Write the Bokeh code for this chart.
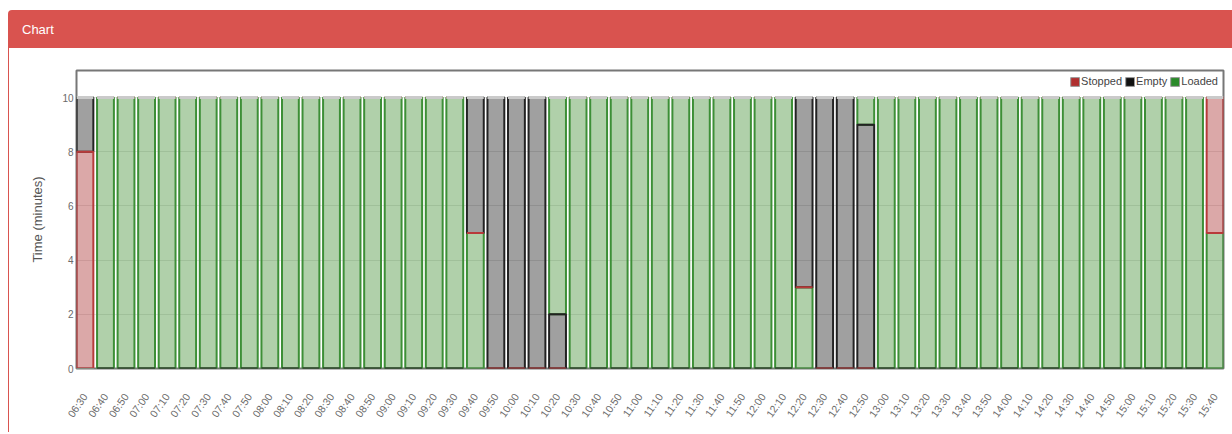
import math
from bokeh.plotting import figure
from bokeh.models import (ColumnDataSource, FixedTicker, Range1d, Div, Legend, LegendItem)
from bokeh.layouts import column
from bokeh.embed import file_html
from bokeh.resources import INLINE

times = ["06:30", "06:40", "06:50", "07:00", "07:10", "07:20", "07:30", "07:40", "07:50", "08:00",
         "08:10", "08:20", "08:30", "08:40", "08:50", "09:00", "09:10", "09:20", "09:30", "09:40",
         "09:50", "10:00", "10:10", "10:20", "10:30", "10:40", "10:50", "11:00", "11:10", "11:20",
         "11:30", "11:40", "11:50", "12:00", "12:10", "12:20", "12:30", "12:40", "12:50", "13:00",
         "13:10", "13:20", "13:30", "13:40", "13:50", "14:00", "14:10", "14:20", "14:30", "14:40",
         "14:50", "15:00", "15:10", "15:20", "15:30", "15:40"]

stopped = [8, 0, 0, 0, 0, 0, 0, 0, 0, 0,
           0, 0, 0, 0, 0, 0, 0, 0, 0, 0,
           0, 0, 0, 0, 0, 0, 0, 0, 0, 0,
           0, 0, 0, 0, 0, 0, 0, 0, 0, 0,
           0, 0, 0, 0, 0, 0, 0, 0, 0, 0,
           0, 0, 0, 0, 0, 5]
empty = [2, 0, 0, 0, 0, 0, 0, 0, 0, 0,
         0, 0, 0, 0, 0, 0, 0, 0, 0, 5,
         10, 10, 10, 2, 0, 0, 0, 0, 0, 0,
         0, 0, 0, 0, 0, 7, 10, 10, 9, 0,
         0, 0, 0, 0, 0, 0, 0, 0, 0, 0,
         0, 0, 0, 0, 0, 0]
loaded = [0, 10, 10, 10, 10, 10, 10, 10, 10, 10,
          10, 10, 10, 10, 10, 10, 10, 10, 10, 5,
          0, 0, 0, 8, 10, 10, 10, 10, 10, 10,
          10, 10, 10, 10, 10, 3, 0, 0, 1, 10,
          10, 10, 10, 10, 10, 10, 10, 10, 10, 10,
          10, 10, 10, 10, 10, 5]
# stacking order inside each 10-minute bar (S=Stopped, E=Empty, L=Loaded)
order = ["SEL", "ELS", "ELS", "ELS", "ELS", "ELS", "ELS", "ELS", "ELS", "ELS",
         "ELS", "ELS", "ELS", "ELS", "ELS", "ELS", "ELS", "ELS", "ELS", "LSE",
         "SEL", "SEL", "SEL", "SEL", "ELS", "ELS", "ELS", "ELS", "ELS", "ELS",
         "ELS", "ELS", "ELS", "ELS", "ELS", "LSE", "SEL", "SEL", "SEL", "ELS",
         "ELS", "ELS", "ELS", "ELS", "ELS", "ELS", "ELS", "ELS", "ELS", "ELS",
         "ELS", "ELS", "ELS", "ELS", "ELS", "LSE"]
series_names = ["Stopped", "Empty", "Loaded"]

FONT = "Liberation Sans"
W = 0.82

vals = {"S": stopped, "E": empty, "L": loaded}
segs = {k: {"x": [], "bottom": [], "top": []} for k in "SEL"}
totals = []
for i, o in enumerate(order):
    base = 0
    for k in o:
        v = vals[k][i]
        segs[k]["x"].append(i)
        segs[k]["bottom"].append(base)
        segs[k]["top"].append(base + v)
        base += v
    totals.append(base)

n = len(times)
p = figure(frame_width=1146, frame_height=298, min_border_left=67, min_border_top=22,
           min_border_right=5, min_border_bottom=64,
           x_range=Range1d(-W / 2, n - 1 + W / 2), y_range=Range1d(0, 11),
           output_backend="svg", toolbar_location=None,
           margin=(0, 0, 0, 8),
           styles={"border-left": "1px solid #d9534f"})

styles = {
    "L": dict(fill_color="#398a2a", fill_alpha=0.4, line_color="#3d8f37", line_width=2),
    "E": dict(fill_color="#111111", fill_alpha=0.4, line_color="#222222", line_width=2),
    "S": dict(fill_color="#a52525", fill_alpha=0.4, line_color="#b83a3a", line_width=2),
}
for k in "LES":
    p.vbar(x="x", bottom="bottom", top="top", width=W, source=ColumnDataSource(segs[k]), **styles[k])

# light cap on top of each bar
p.vbar(x=list(range(n)), bottom=totals, top=totals, width=W, line_color="#cacaca", line_width=3,
       fill_alpha=0)

# legend proxies: drawn on a hidden helper range, so they never appear in the plot area
p.extra_y_ranges = {"legend_proxy": Range1d(100, 101)}
legend_colors = ["#b03030", "#111111", "#2a8a2a"]
items = []
for name, col in zip(series_names, legend_colors):
    src = ColumnDataSource(dict(x=[0], top=[0], bottom=[0]))
    r = p.vbar(x="x", top="top", bottom="bottom", width=W, source=src, y_range_name="legend_proxy",
               fill_color=col, line_color="#9a9a9a", line_width=1)
    items.append(LegendItem(label=name, renderers=[r]))
legend = Legend(items=items, orientation="horizontal", location=(0, 0),
                label_text_font=FONT, label_text_font_size="11px", label_text_color="#444444",
                glyph_width=11, glyph_height=11, label_standoff=1, spacing=2,
                padding=2, margin=0, border_line_color=None, background_fill_alpha=0,
                label_height=11)
legend.location = "top_right"
legend.margin = 4
legend.padding = 3
legend.padding = 2
p.add_layout(legend)
legend.margin = 5

p.outline_line_color = "#777777"
p.outline_line_width = 2
p.xgrid.grid_line_color = None
p.ygrid.grid_line_color = "#000000"
p.ygrid.grid_line_alpha = 0.1
p.ygrid.ticker = FixedTicker(ticks=[0, 2, 4, 6, 8, 10])

p.yaxis.ticker = FixedTicker(ticks=[0, 2, 4, 6, 8, 10])
p.xaxis.ticker = FixedTicker(ticks=list(range(n)))
p.xaxis.major_label_overrides = {i: t for i, t in enumerate(times)}
p.xaxis.major_label_orientation = math.radians(55)

for ax in (p.xaxis, p.yaxis):
    ax.axis_line_color = None
    ax.major_tick_line_color = None
    ax.minor_tick_line_color = None
    ax.major_tick_out = 0
    ax.major_label_text_font = FONT
    ax.major_label_text_color = "#6a6a6a"
p.xaxis.major_label_text_font_size = "10.5px"
p.yaxis.major_label_text_font_size = "10px"
p.xaxis.major_label_standoff = 26
p.yaxis.major_label_standoff = 3
p.yaxis.axis_label = "Time (minutes)"
p.yaxis.axis_label_text_font = FONT
p.yaxis.axis_label_text_font_style = "normal"
p.yaxis.axis_label_text_font_size = "13px"
p.yaxis.axis_label_text_color = "#555555"
p.yaxis.axis_label_standoff = 14

header = Div(text=('<div style="background:#d9534f;color:#ffffff;height:38px;width:1224px;'
                   'box-sizing:border-box;padding:11px 14px;font-family:\'Liberation Sans\';'
                   'font-size:13px;border-radius:4px 0 0 0;">Chart</div>'),
             width=1224, height=38, margin=(10, 0, 0, 8))

layout = column(header, p)
open("out.html", "w").write(file_html(layout, INLINE))
